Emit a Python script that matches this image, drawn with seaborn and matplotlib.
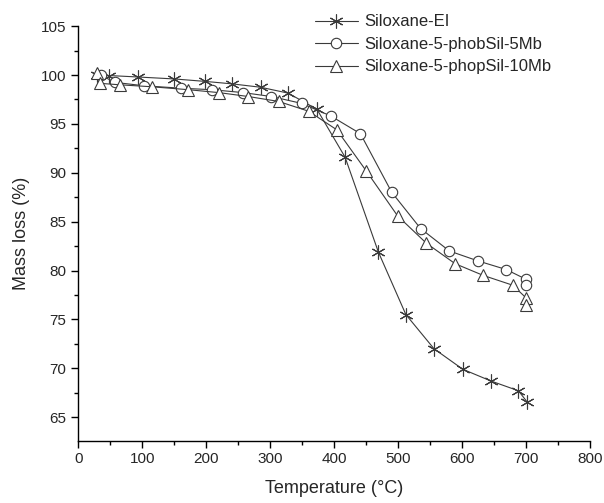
import matplotlib
matplotlib.use('Agg')
import matplotlib.pyplot as plt
from matplotlib.ticker import MultipleLocator
import seaborn as sns
import pandas as pd

# data
temp_el = [30, 48, 93, 150, 198, 240, 285, 328, 373, 417, 469, 512, 556, 601, 645, 688, 701]
mass_el = [100.0, 99.95, 99.8, 99.6, 99.35, 99.1, 98.75, 98.15, 96.5, 91.6, 81.9, 75.5, 72.0, 69.9, 68.7, 67.7, 66.6]

temp_5mb = [35, 57, 103, 161, 209, 258, 302, 349, 395, 441, 490, 535, 580, 624, 669, 700, 700]
mass_5mb = [100.0, 99.25, 98.9, 98.65, 98.5, 98.2, 97.8, 97.1, 95.8, 94.0, 88.0, 84.3, 82.0, 81.0, 80.1, 79.1, 78.5]

temp_10mb = [30, 34, 65, 115, 172, 220, 266, 313, 360, 404, 450, 499, 544, 589, 633, 679, 700, 700]
mass_10mb = [100.2, 99.15, 99.0, 98.8, 98.5, 98.2, 97.8, 97.3, 96.3, 94.4, 90.2, 85.6, 82.8, 80.7, 79.5, 78.5, 77.2, 76.5]

LABELS = ['Siloxane-EI', 'Siloxane-5-phobSil-5Mb', 'Siloxane-5-phopSil-10Mb']
################################################################
sns.set_style('ticks')
plt.rcParams['font.family'] = ['Liberation Sans', 'DejaVu Sans']
plt.rcParams['xtick.labelsize'] = 11
plt.rcParams['ytick.labelsize'] = 11

fig = plt.figure(figsize=(6.04, 5.03), dpi=100)
ax = fig.add_axes([0.1296, 0.124, 0.8474, 0.824])

LINE = '#3a3a3a'
series = [
    (temp_el, mass_el, (6, 2, 0), 10),
    (temp_5mb, mass_5mb, 'o', 7.5),
    (temp_10mb, mass_10mb, '^', 8.5),
]
for (xs, ys, mk, ms), lab in zip(series, LABELS):
    df = pd.DataFrame({'x': xs, 'y': ys})
    # estimator=None keeps the repeated points at 700 apart
    sns.lineplot(data=df, x='x', y='y', sort=False, estimator=None, ax=ax,
                 color=LINE, lw=0.8, marker=mk, markersize=ms, markerfacecolor='white',
                 markeredgecolor=LINE, markeredgewidth=0.8, label=lab)

ax.set_xlim(0, 800)
ax.set_ylim(62.6, 105)
ax.xaxis.set_major_locator(MultipleLocator(100))
ax.xaxis.set_minor_locator(MultipleLocator(50))
ax.yaxis.set_major_locator(MultipleLocator(5))
ax.yaxis.set_minor_locator(MultipleLocator(2.5))
ax.tick_params(which='major', direction='out', length=5, width=1, color='black')
ax.tick_params(which='minor', direction='out', length=3, width=1, color='black')
sns.despine(ax=ax)
for s in ['left', 'bottom']:
    ax.spines[s].set_color('black')
    ax.spines[s].set_linewidth(1)

ax.set_xlabel('Temperature (°C)', fontsize=13, labelpad=10)
ax.set_ylabel('Mass loss (%)', fontsize=13, labelpad=8)

ax.legend(loc='upper left', bbox_to_anchor=(0.507, 0.988), bbox_transform=fig.transFigure,
          frameon=False, fontsize=12, handlelength=2.6, labelspacing=0.45,
          handletextpad=0.4, borderpad=0)

plt.savefig('out.png', dpi=100)
